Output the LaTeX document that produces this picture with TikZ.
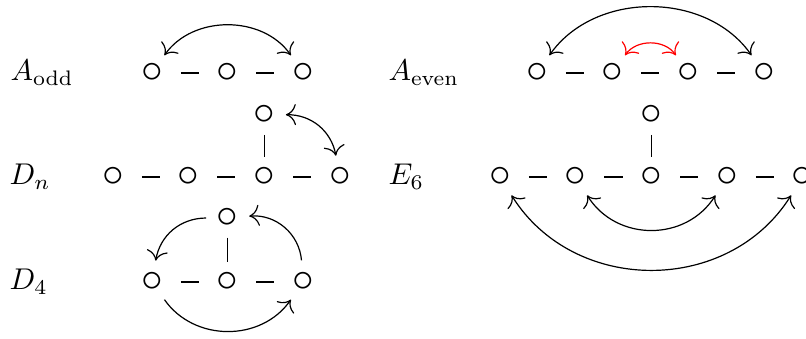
\documentclass[tikz,border=0pt]{standalone}
\usepackage{amsmath,amssymb}
\usepackage{tikz}
\usetikzlibrary{arrows.meta}
\tikzset{
  dyn/.style={circle, inner sep=0pt, minimum size=14pt, font=\Large},
  dynlbl/.style={anchor=base west, inner sep=0pt},
  bondh/.style={draw=black, line width=0.4pt, shorten <=2.4pt, shorten >=2.4pt},
  bondv/.style={draw=black, line width=0.4pt, shorten <=-0.6pt, shorten >=-0.6pt},
  invol/.style={{Computer Modern Rightarrow[scale=1.35]}-{Computer Modern Rightarrow[scale=1.35]}, line width=0.4pt},
  invone/.style={-{Computer Modern Rightarrow[scale=1.35]}, line width=0.4pt}
}
\begin{document}
\begin{tikzpicture}
  \useasboundingbox (0,0) rectangle (9.442,3.971);
  % labels
  \node[dynlbl] (lao) at (0.117,3.022) {$A_{\mathrm{odd}}$};
  \node[dynlbl] (lae) at (4.545,3.022) {$A_{\mathrm{even}}$};
  \node[dynlbl] (ldn) at (0.105,1.804) {$D_n$};
  \node[dynlbl] (le6) at (4.545,1.804) {$E_6$};
  \node[dynlbl] (ld4) at (0.105,0.574) {$D_4$};
  % A odd
  \node[dyn] (ao1) at (1.781,3.116) {$\circ$};
  \node[dyn] (ao2) at (2.667,3.116) {$\circ$};
  \node[dyn] (ao3) at (3.553,3.116) {$\circ$};
  \draw[bondh] (ao1) -- (ao2);
  \draw[bondh] (ao2) -- (ao3);
  \draw[invol] (ao1) to[bend left=55] (ao3);
  % A even
  \node[dyn] (ae1) at (6.291,3.116) {$\circ$};
  \node[dyn] (ae2) at (7.177,3.116) {$\circ$};
  \node[dyn] (ae3) at (8.063,3.116) {$\circ$};
  \node[dyn] (ae4) at (8.949,3.116) {$\circ$};
  \draw[bondh] (ae1) -- (ae2);
  \draw[bondh] (ae2) -- (ae3);
  \draw[bondh] (ae3) -- (ae4);
  \draw[invol] (ae1) to[bend left=55] (ae4);
  \draw[invol, red] (ae2) to[bend left=55] (ae3);
  % D n
  \node[dyn] (dn1) at (1.324,1.898) {$\circ$};
  \node[dyn] (dn2) at (2.210,1.898) {$\circ$};
  \node[dyn] (dn3) at (3.096,1.898) {$\circ$};
  \node[dyn] (dn4) at (3.982,1.898) {$\circ$};
  \node[dyn] (dnt) at (3.096,2.624) {$\circ$};
  \draw[bondh] (dn1) -- (dn2);
  \draw[bondh] (dn2) -- (dn3);
  \draw[bondh] (dn3) -- (dn4);
  \draw[bondv] (dnt) -- (dn3);
  \draw[invol] (dnt) to[bend left=40] (dn4);
  % E 6
  \node[dyn] (e1) at (5.858,1.898) {$\circ$};
  \node[dyn] (e2) at (6.744,1.898) {$\circ$};
  \node[dyn] (e3) at (7.630,1.898) {$\circ$};
  \node[dyn] (e4) at (8.516,1.898) {$\circ$};
  \node[dyn] (e5) at (9.402,1.898) {$\circ$};
  \node[dyn] (et) at (7.630,2.624) {$\circ$};
  \draw[bondh] (e1) -- (e2);
  \draw[bondh] (e2) -- (e3);
  \draw[bondh] (e3) -- (e4);
  \draw[bondh] (e4) -- (e5);
  \draw[bondv] (et) -- (e3);
  \draw[invol] (e2) to[bend right=58, looseness=1.1] (e4);
  \draw[invol] (e1) to[bend right=58, looseness=1.08] (e5);
  % D 4
  \node[dyn] (d1) at (1.781,0.668) {$\circ$};
  \node[dyn] (d2) at (2.667,0.668) {$\circ$};
  \node[dyn] (d3) at (3.553,0.668) {$\circ$};
  \node[dyn] (dt) at (2.667,1.418) {$\circ$};
  \draw[bondh] (d1) -- (d2);
  \draw[bondh] (d2) -- (d3);
  \draw[bondv] (dt) -- (d2);
  \draw[invone] (d1) to[bend right=55, looseness=1.05] (d3);
  \draw[invone] (d3) to[bend right=45] (dt);
  \draw[invone] (dt) to[bend right=40] (d1);
\end{tikzpicture}
\end{document}
